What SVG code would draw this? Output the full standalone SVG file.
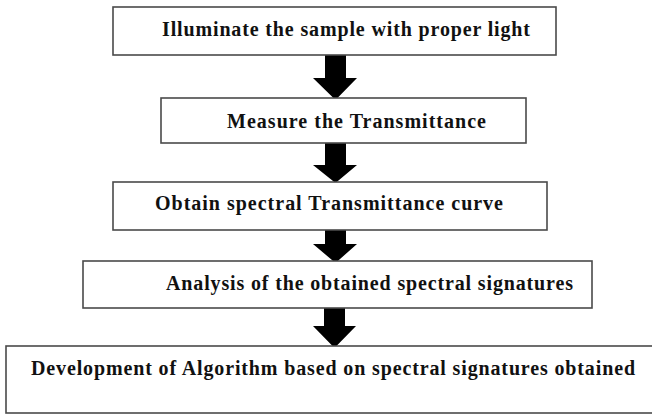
<svg xmlns="http://www.w3.org/2000/svg" width="652" height="415" viewBox="0 0 652 415">
<style>
.box{fill:#fff;stroke:#4a4a4a;stroke-width:1.6}
.lbl{font-family:"Liberation Serif","Times New Roman",serif;font-weight:bold;font-size:20px;fill:#111}
.arr{fill:#000}
</style>
<rect width="652" height="415" fill="#fff"/>
<g id="connectors">
<polygon class="arr" points="325,55 346,55 346,78 357,78 335.5,100 313,78 325,78"/>
<polygon class="arr" points="325,143 346,143 346,165 357,165 335.5,183 313,165 325,165"/>
<polygon class="arr" points="325,230 346,230 346,244 357,244 335.5,263 313,244 325,244"/>
<polygon class="arr" points="324,308 345,308 345,326 356,326 334.5,348 313,326 324,326"/>
</g>
<g id="n1">
<rect class="box" x="113" y="7" width="443" height="48"/>
<text class="lbl" x="162" y="36" textLength="368">Illuminate the sample with proper light</text>
</g>
<g id="n2">
<rect class="box" x="161" y="98" width="365" height="45"/>
<text class="lbl" x="227" y="128" textLength="259">Measure the Transmittance</text>
</g>
<g id="n3">
<rect class="box" x="113" y="182" width="434" height="48"/>
<text class="lbl" x="155" y="210" textLength="348">Obtain spectral Transmittance curve</text>
</g>
<g id="n4">
<rect class="box" x="83" y="261" width="509" height="47"/>
<text class="lbl" x="166" y="290" textLength="407">Analysis of the obtained spectral signatures</text>
</g>
<g id="n5">
<rect class="box" x="6" y="346" width="660" height="67"/>
<text class="lbl" x="31" y="375" textLength="604">Development of Algorithm based on spectral signatures obtained</text>
</g>
</svg>
